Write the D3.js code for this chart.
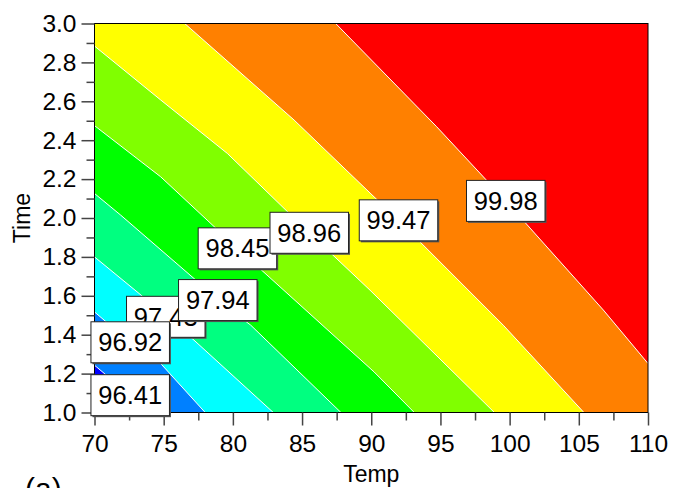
<!DOCTYPE html>
<head>
<meta charset="utf-8">
<script src="https://d3js.org/d3.v7.min.js"></script>
<style>
  body { margin: 0; background: #fff; }
  text { font-family: "Liberation Sans", Arial, sans-serif; fill: #000; }
</style>
</head>
<body>
<script>
// contour levels, lowest first; one more band colour than levels
var levels = [96.41, 96.92, 97.43, 97.94, 98.45, 98.96, 99.47, 99.98];
var bandColors = ["#0000ff", "#0080ff", "#00ffff", "#00ff80", "#00ff00", "#80ff00", "#ffff00", "#ff8000", "#ff0000"];

// contour lines as [Temp, Time], upper-left end first
var line9641 = [[70, 1.243], [72.58, 1.089], [73.97, 1.0]];
var line9692 = [[70, 1.517], [72.58, 1.361], [74.78, 1.252], [78.0, 1.0]];
var line9743 = [[70, 1.80], [73.22, 1.612], [77.19, 1.372], [82.92, 1.0]];
var line9794 = [[70, 2.126], [71.89, 2.015], [77.19, 1.689], [78.91, 1.578], [81.29, 1.449], [87.81, 1.0]];
var line9845 = [[70, 2.475], [74.78, 2.212], [80.33, 1.844], [90.2, 1.209], [93.11, 1.0]];
var line9896 = [[70, 2.884], [74.78, 2.607], [79.6, 2.332], [85.52, 1.924], [89.91, 1.629], [98.9, 1.0]];
var line9947 = [[76.52, 3.0], [84.42, 2.504], [91.97, 1.988], [99.54, 1.449], [105.37, 1.0]];
var line9998 = [[87.43, 3.0], [94.73, 2.469], [99.72, 2.088], [106.77, 1.527], [110, 1.252]];
var contourLines = [line9641, line9692, line9743, line9794, line9845, line9896, line9947, line9998];

// where each level label sits (box centre), same order as levels
var labelPoints = [[72.58, 1.089], [72.58, 1.361], [75.15, 1.492], [78.91, 1.578],
                   [80.33, 1.844], [85.52, 1.924], [91.97, 1.988], [99.72, 2.088]];
var labelOrder = [0, 2, 1, 3, 4, 5, 6, 7];

var xTicks = [70, 75, 80, 85, 90, 95, 100, 105, 110];
var xMinor = [72.5, 77.5, 82.5, 87.5, 92.5, 97.5, 102.5, 107.5];
var yTicks = [1.0, 1.2, 1.4, 1.6, 1.8, 2.0, 2.2, 2.4, 2.6, 2.8, 3.0];
var yMinor = [1.1, 1.3, 1.5, 1.7, 1.9, 2.1, 2.3, 2.5, 2.7, 2.9];

var W = 673, H = 488;
var mLeft = 94.5, mTop = 23.5, pw = 553.5, ph = 389;

var svg = d3.select("body").append("svg").attr("width", W).attr("height", H);
svg.append("rect").attr("width", W).attr("height", H).attr("fill", "#fff");

var g = svg.append("g").attr("transform", "translate(" + mLeft + "," + mTop + ")");

var x = d3.scaleLinear().domain([70, 110]).range([0, pw]);
var y = d3.scaleLinear().domain([1, 3]).range([ph, 0]);

// bottom band
g.append("rect").attr("width", pw).attr("height", ph).attr("fill", bandColors[0]);

// region above/right of each line gets the next colour
function regionAbove(pts) {
  var poly = pts.slice();
  var first = pts[0], last = pts[pts.length - 1];
  if (last[0] < 110) poly.push([110, 1.0]);
  poly.push([110, 3.0]);
  if (first[1] < 3.0) poly.push([70, 3.0]);
  return poly;
}
var line = d3.line().x(function(d) { return x(d[0]); }).y(function(d) { return y(d[1]); });

g.selectAll(".band").data(contourLines).enter().append("path")
  .attr("class", "band")
  .attr("d", function(d) { return line(regionAbove(d)) + "Z"; })
  .attr("fill", function(d, i) { return bandColors[i + 1]; });

g.selectAll(".cline").data(contourLines).enter().append("path")
  .attr("class", "cline")
  .attr("d", line)
  .attr("fill", "none")
  .attr("stroke", "#fff")
  .attr("stroke-width", 1);

// frame
g.append("rect").attr("width", pw).attr("height", ph)
  .attr("fill", "none").attr("stroke", "#000").attr("stroke-width", 1);

// axes
function styleAxis(sel) {
  sel.select(".domain").remove();
  sel.selectAll(".tick line").attr("stroke", "#444").attr("stroke-width", 1.5);
  sel.selectAll(".tick text").attr("font-size", "24.5px").attr("fill", "#000")
    .attr("font-family", '"Liberation Sans", Arial, sans-serif');
}
g.append("g").attr("transform", "translate(0," + ph + ")")
  .call(d3.axisBottom(x).tickValues(xMinor).tickSize(8).tickFormat(""))
  .call(styleAxis);
g.append("g").attr("transform", "translate(0," + ph + ")")
  .call(d3.axisBottom(x).tickValues(xTicks).tickSize(13).tickPadding(9).tickFormat(d3.format("d")))
  .call(styleAxis);
g.append("g")
  .call(d3.axisLeft(y).tickValues(yMinor).tickSize(8).tickFormat(""))
  .call(styleAxis);
g.append("g")
  .call(d3.axisLeft(y).tickValues(yTicks).tickSize(13).tickPadding(5).tickFormat(d3.format(".1f")))
  .call(styleAxis);

// level labels
var boxW = 78.5, boxH = 41;
var labels = g.selectAll(".lab").data(labelOrder).enter().append("g")
  .attr("class", "lab")
  .attr("transform", function(i) {
    return "translate(" + x(labelPoints[i][0]) + "," + y(labelPoints[i][1]) + ")";
  });
labels.append("rect")
  .attr("x", -boxW / 2 + 1.5).attr("y", -boxH / 2 + 1.5)
  .attr("width", boxW).attr("height", boxH).attr("fill", "#555");
labels.append("rect")
  .attr("x", -boxW / 2).attr("y", -boxH / 2)
  .attr("width", boxW).attr("height", boxH)
  .attr("fill", "#fff").attr("stroke", "#222").attr("stroke-width", 1);
labels.append("text")
  .attr("text-anchor", "middle")
  .attr("y", 9)
  .attr("font-size", "25.5px")
  .text(function(i) { return levels[i].toFixed(2); });

// axis titles
svg.append("text")
  .attr("x", mLeft + pw / 2).attr("y", 482)
  .attr("text-anchor", "middle").attr("font-size", "23px")
  .text("Temp");
svg.append("text")
  .attr("transform", "translate(30," + (mTop + ph / 2) + ") rotate(-90)")
  .attr("text-anchor", "middle").attr("font-size", "23px")
  .text("Time");

// panel letter, cut by the bottom edge
svg.append("text")
  .attr("x", 25).attr("y", 499).attr("font-size", "30px")
  .text("(a)");
</script>
</body>
